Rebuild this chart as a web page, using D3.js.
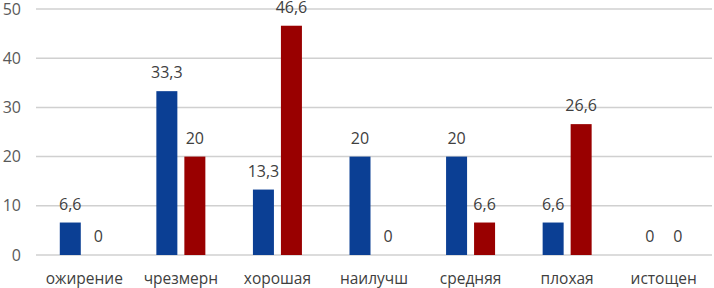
<!DOCTYPE html>
<html><head><meta charset="utf-8">
<script src="https://cdn.jsdelivr.net/npm/d3@7"></script>
<style>body{margin:0;background:#fff}svg{display:block}</style>
</head><body>
<svg id="c" width="714" height="288"></svg>
<script>
const categories = ["ожирение","чрезмерн","хорошая","наилучш","средняя","плохая","истощен"];
const seriesA = [6.6, 33.3, 13.3, 20, 20, 6.6, 0];
const seriesB = [0, 20, 46.6, 0, 6.6, 26.6, 0];
const labelsA = ["6,6","33,3","13,3","20","20","6,6","0"];
const labelsB = ["0","20","46,6","0","6,6","26,6","0"];
const yTicks = [0,10,20,30,40,50];
const colors = ["#0b3f94","#990000"];

const svg = d3.select("#c");
const font = "'Open Sans', 'Noto Sans', sans-serif";
const x = d3.scaleBand().domain(categories).range([36, 712]);
const y = d3.scaleLinear().domain([0,50]).range([255, 9]);
const barW = 21, gap = 7;

svg.append("g").selectAll("line").data(yTicks).join("line")
  .attr("x1", 36).attr("x2", 712)
  .attr("y1", d => y(d)).attr("y2", d => y(d))
  .attr("stroke", "#d0d0d0").attr("stroke-width", 1.5);

svg.append("g").selectAll("text").data(yTicks).join("text")
  .attr("x", 21).attr("y", d => y(d) + 5.5)
  .attr("text-anchor", "end").attr("font-family", font).attr("font-size", 16)
  .attr("fill", "#595959").text(d => d);

const series = [{v: seriesA, l: labelsA, off: -(barW + gap)/2}, {v: seriesB, l: labelsB, off: (barW + gap)/2}];
series.forEach((s, si) => {
  const g = svg.append("g");
  g.selectAll("rect").data(categories).join("rect")
    .attr("x", (c) => x(c) + x.bandwidth()/2 + s.off - barW/2)
    .attr("y", (c, i) => y(s.v[i]))
    .attr("width", barW)
    .attr("height", (c, i) => y(0) - y(s.v[i]))
    .attr("fill", colors[si]);
  g.selectAll("text").data(categories).join("text")
    .attr("x", (c) => x(c) + x.bandwidth()/2 + s.off)
    .attr("y", (c, i) => y(s.v[i]) - 13)
    .attr("text-anchor", "middle").attr("font-family", font).attr("font-size", 16)
    .attr("fill", "#404040").text((c, i) => s.l[i]);
});

svg.append("g").selectAll("text").data(categories).join("text")
  .attr("x", c => x(c) + x.bandwidth()/2).attr("y", 283.5)
  .attr("text-anchor", "middle").attr("font-family", font).attr("font-size", 15.5)
  .attr("fill", "#404040").text(c => c);
</script>
</body></html>
